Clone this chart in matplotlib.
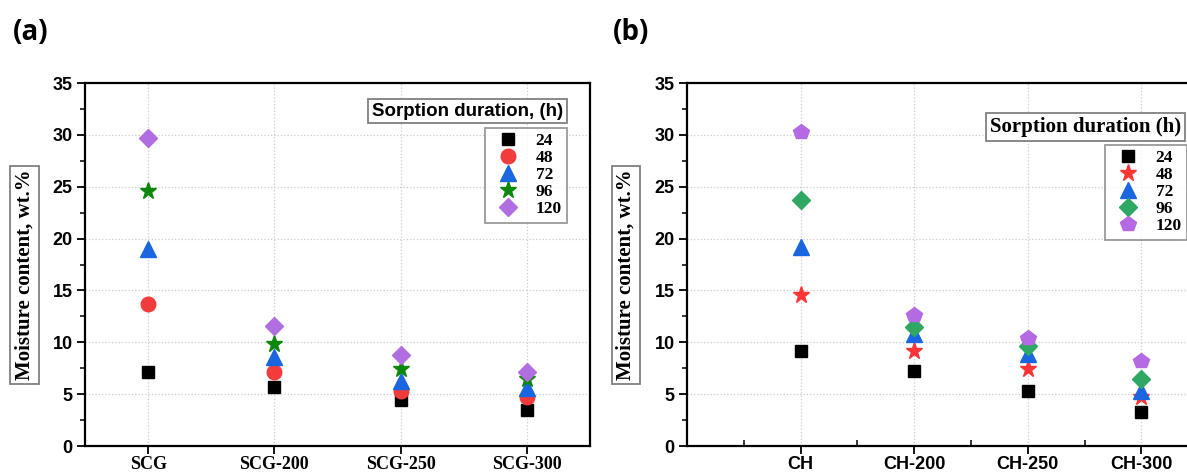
import numpy as np
import matplotlib.pyplot as plt
from matplotlib.ticker import MultipleLocator

# sorption durations (h)
durations = ['24', '48', '72', '96', '120']

# panel (a) spent coffee grounds
scg_labels = ['SCG', 'SCG-200', 'SCG-250', 'SCG-300']
scg_24 = [7.1, 5.7, 4.4, 3.5]
scg_48 = [13.7, 7.1, 5.3, 4.7]
scg_72 = [19.0, 8.6, 6.3, 5.6]
scg_96 = [24.6, 9.8, 7.4, 6.5]
scg_120 = [29.7, 11.6, 8.8, 7.1]

# panel (b)
ch_labels = ['CH', 'CH-200', 'CH-250', 'CH-300']
ch_24 = [9.2, 7.2, 5.3, 3.3]
ch_48 = [14.6, 9.2, 7.4, 4.7]
ch_72 = [19.2, 10.8, 8.9, 5.3]
ch_96 = [23.7, 11.5, 9.6, 6.5]
ch_120 = [30.3, 12.6, 10.4, 8.2]

W, H = 1187, 473
fig = plt.figure(figsize=(W / 100, H / 100), dpi=100)

def px(x0, y0, x1, y1):
    return [x0 / W, 1 - y1 / H, (x1 - x0) / W, (y1 - y0) / H]

times = 'Liberation Serif'
arial = 'Liberation Sans'

def style_axes(ax, xticks, xlabels, xfont, xlim, minor_x=False):
    ax.set_xlim(*xlim)
    ax.set_ylim(0, 35)
    ax.set_xticks(xticks)
    ax.set_xticklabels(xlabels, fontfamily=xfont, fontweight='bold', fontsize=13)
    ax.yaxis.set_major_locator(MultipleLocator(5))
    ax.yaxis.set_minor_locator(MultipleLocator(2.5))
    for lab in ax.get_yticklabels():
        lab.set_fontfamily(arial)
        lab.set_fontweight('bold')
        lab.set_fontsize(13)
    ax.tick_params(axis='both', which='major', direction='out', length=6, width=1.3, pad=3)
    ax.tick_params(axis='x', which='major', pad=1.5)
    ax.tick_params(axis='y', which='minor', direction='out', length=3.5, width=1.1)
    if minor_x:
        ax.xaxis.set_minor_locator(MultipleLocator(0.5))
        ax.tick_params(axis='x', which='minor', direction='in', length=4, width=1.1)
    for s in ax.spines.values():
        s.set_linewidth(1.6)
    ax.grid(True, which='major', linestyle=':', color='#cccccc', linewidth=0.9)
    ax.set_axisbelow(True)

legend_kw = dict(bbox_transform=fig.transFigure, frameon=True, fancybox=False,
                 prop={'family': times, 'weight': 'bold', 'size': 12.5},
                 labelspacing=0.05, handletextpad=0.6, borderpad=0.3,
                 handlelength=2.0, borderaxespad=0, loc='upper right')

# ---- panel (a)
ax1 = fig.add_axes(px(85, 83, 590, 446))
x = np.arange(1, 5)
s1 = [
    (scg_24, 's', '#000000', 9),
    (scg_48, 'o', '#f23b3b', 10.5),
    (scg_72, '^', '#1a66e0', 11),
    (scg_96, '*', '#0b870b', 12.5),
    (scg_120, 'D', '#b06ee0', 9.5),
]
for (vals, m, c, ms), lab in zip(s1, durations):
    ax1.plot(x, vals, linestyle='none', marker=m, color=c, markersize=ms, label=lab)
style_axes(ax1, x, scg_labels, times, (0.5, 4.5))

leg1 = ax1.legend(bbox_to_anchor=(567 / W, 1 - 128 / H), **legend_kw)
leg1.get_frame().set_edgecolor('#808080')
leg1.get_frame().set_linewidth(1.3)
fig.text(563 / W, 1 - 111 / H, 'Sorption duration, (h)', ha='right', va='center',
         fontfamily=arial, fontweight='bold', fontsize=13.5,
         bbox=dict(boxstyle='square,pad=0.2', fc='white', ec='#808080', lw=1.3))

fig.text(24.5 / W, 1 - 275 / H, 'Moisture content, wt.%', rotation=90, ha='center', va='center',
         fontfamily=times, fontweight='bold', fontsize=15,
         bbox=dict(boxstyle='square,pad=0.2', fc='white', ec='#808080', lw=1.3))
fig.text(13 / W, 1 - 32 / H, '(a)', ha='left', va='center', fontfamily='Open Sans',
         fontweight='bold', fontsize=20)

# ---- panel (b)
ax2 = fig.add_axes(px(687, 83, 1255, 446))
s2 = [
    (ch_24, 's', '#000000', 9),
    (ch_48, '*', '#ff3535', 12.5),
    (ch_72, '^', '#1a66e0', 11),
    (ch_96, 'D', '#2ea862', 9.5),
    (ch_120, 'p', '#b36ae2', 11.5),
]
for (vals, m, c, ms), lab in zip(s2, durations):
    ax2.plot(x, vals, linestyle='none', marker=m, color=c, markersize=ms, label=lab)
style_axes(ax2, x, ch_labels, arial, (0, 5), minor_x=True)

leg2 = ax2.legend(bbox_to_anchor=(1187 / W, 1 - 145 / H), **legend_kw)
leg2.get_frame().set_edgecolor('#808080')
leg2.get_frame().set_linewidth(1.3)
fig.text(1181 / W, 1 - 127 / H, 'Sorption duration (h)', ha='right', va='center',
         fontfamily=times, fontweight='bold', fontsize=15,
         bbox=dict(boxstyle='square,pad=0.2', fc='white', ec='#808080', lw=1.3))

fig.text(626 / W, 1 - 275 / H, 'Moisture content, wt.%', rotation=90, ha='center', va='center',
         fontfamily=times, fontweight='bold', fontsize=15,
         bbox=dict(boxstyle='square,pad=0.2', fc='white', ec='#808080', lw=1.3))
fig.text(613 / W, 1 - 32 / H, '(b)', ha='left', va='center', fontfamily='Open Sans',
         fontweight='bold', fontsize=20)

fig.savefig('out.png', dpi=100)
